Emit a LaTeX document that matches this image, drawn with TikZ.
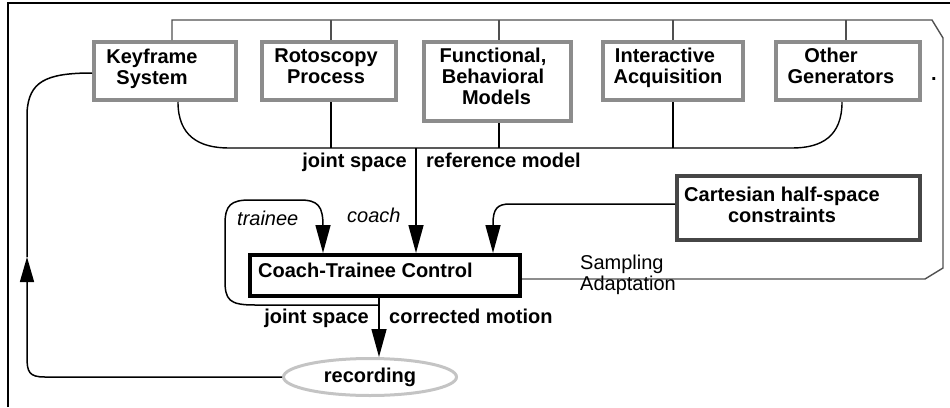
\documentclass[tikz,border=0pt]{standalone}
\usepackage{fontspec}
\setmainfont{Liberation Sans}
\usetikzlibrary{arrows.meta,shapes.geometric}
\definecolor{boxgray}{HTML}{8C8C8C}
\definecolor{darkbox}{HTML}{464646}
\definecolor{fbgray}{HTML}{505050}
\definecolor{ellgray}{HTML}{C4C4C4}
\begin{document}
\begin{tikzpicture}[x=1pt,y=-1pt,
  txt/.style={font=\fontsize{20}{21}\selectfont\bfseries, inner sep=0pt, align=center},
  ltxt/.style={font=\fontsize{20}{21}\selectfont, inner sep=0pt, align=left},
  itxt/.style={font=\fontsize{20}{21}\selectfont\itshape, inner sep=0pt},
  genbox/.style={draw=boxgray, line width=4pt, inner sep=0pt},
  bus/.style={line width=1.4pt},
  fb/.style={draw=fbgray, line width=1.4pt},
  arr/.style={line width=1.5pt, -{Triangle[length=28pt,width=15pt]}},
  arrup/.style={line width=1.5pt, -{Triangle[length=25pt,width=14pt]}}]
\useasboundingbox (0,0) rectangle (950,407);

% outer frame (top and left edges)
\draw[line width=1.5pt] (8,407) -- (8,3) -- (950,3);

% motion generators
\node[genbox, minimum width=142pt, minimum height=58pt] (kf)  at (165,71) {};
\node[genbox, minimum width=134pt, minimum height=58pt] (rot) at (329,71) {};
\node[genbox, minimum width=147pt, minimum height=79pt] (fun) at (497.5,81.5) {};
\node[genbox, minimum width=140pt, minimum height=58pt] (int) at (673,71) {};
\node[genbox, minimum width=144pt, minimum height=58pt] (oth) at (848,71) {};

% (multi-line text nodes sit on the baseline of their last line)
\node[txt, anchor=base] (kfT)  at (152,84) {Keyframe\\System};
\node[txt, anchor=base] (rotT) at (326,83) {Rotoscopy\\Process};
\node[txt, anchor=base] (funT) at (493,104) {Functional,\\Behavioral\\\hspace*{7pt}Models};
\node[txt, anchor=base] (intT) at (668,83) {Interactive\hspace*{6pt}\\Acquisition};
\node[txt, anchor=base] (othT) at (841,83) {Other\hspace*{20pt}\\Generators};
\node[txt, anchor=base] (dot)  at (934,80) {.};

% control and constraint blocks
\node[draw, line width=4pt, minimum width=270pt, minimum height=41pt, inner sep=0pt] (coach) at (385,275.5) {};
\node[txt, anchor=base west] (coachT) at (258,277) {Coach-Trainee Control};
\node[draw=darkbox, line width=4pt, minimum width=243pt, minimum height=64pt, inner sep=0pt] (cart) at (798.5,208) {};
\node[txt, anchor=base] (cartT) at (782,222) {Cartesian half-space\\constraints};
\node[ellipse, draw=ellgray, line width=3pt, minimum width=173pt, minimum height=37pt, inner sep=0pt,
      font=\fontsize{20}{21}\selectfont\bfseries] (rec) at (370,377) {recording};

% sampling adaptation loop
\coordinate (tl) at (172,20);
\coordinate (t2) at (331,20);
\coordinate (t3) at (499,20);
\coordinate (t4) at (673,20);
\coordinate (t5) at (846,20);
\coordinate (fbB) at (925,279);
\draw[fb] (coach.east |- fbB) -- (fbB) -- (943,268) -- (943,38) -- (932,20) -- (tl) -- (tl |- kf.north);
\draw[fb] (t2) -- (t2 |- rot.north);
\draw[fb] (t3) -- (t3 |- fun.north);
\draw[fb] (t4) -- (t4 |- int.north);
\draw[fb] (t5) -- (t5 |- oth.north);
\node[ltxt, anchor=base west] (samp) at (580,290) {Sampling\\Adaptation};

% reference model bus
\coordinate (busL) at (229,148);
\coordinate (busR) at (792,148);
\coordinate (busM) at (416,148);
\coordinate (k1) at (178,0);
\coordinate (o1) at (842,0);
\coordinate (b2) at (331,0);
\coordinate (b3) at (499,0);
\coordinate (b4) at (673,0);
\draw[bus] (k1 |- kf.south) .. controls +(0,34) and +(-30,0) .. (busL) -- (busR)
           .. controls +(30,0) and +(0,34) .. (o1 |- oth.south);
\draw[bus] (b2 |- rot.south) -- (b2 |- busL);
\draw[bus] (b3 |- fun.south) -- (b3 |- busL);
\draw[bus] (b4 |- int.south) -- (b4 |- busL);
\node[txt, anchor=base east] (js1) at (407,167) {joint space};
\node[txt, anchor=base west] (rm)  at (426,167) {reference model};

% coach input
\draw[arr] (busM) -- (busM |- coach.north);
\node[itxt, anchor=base west] (coachL) at (347,222) {coach};

% trainee loop and corrected motion
\coordinate (out) at (379,305);
\coordinate (tr) at (323,0);
\draw[arr] (coach.south -| out) -- (rec.north -| out);
\draw[arr] (out) -- (255,305) .. controls (229,305) and (225,300) .. (225,280) -- (225,224)
     .. controls (225,205) and (231,200) .. (250,200) -- (300,200)
     .. controls (318,200) and (323,206) .. (323,226) -- (tr |- coach.north);
\node[itxt, anchor=base west] (trL) at (237,225) {trainee};
\node[txt, anchor=base east] (js2) at (369,323) {joint space};
\node[txt, anchor=base west] (cm)  at (389,323) {corrected motion};

% constraints input
\coordinate (cs) at (510,204);
\coordinate (cs2) at (493,0);
\draw[arr] (cart.west |- cs) -- (cs) .. controls (497,204) and (493,209) .. (493,224) -- (cs2 |- coach.north);

% recording feedback to keyframing
\coordinate (fbmid) at (27,257);
\coordinate (kin) at (0,73);
\draw[arrup] (rec.west) -- (45,377) .. controls (29,377) and (27,372) .. (27,357) -- (fbmid);
\draw[line width=1.5pt] (fbmid) -- (27,112) .. controls (29,82) and (45,73) .. (kf.west |- kin);
\end{tikzpicture}
\end{document}
